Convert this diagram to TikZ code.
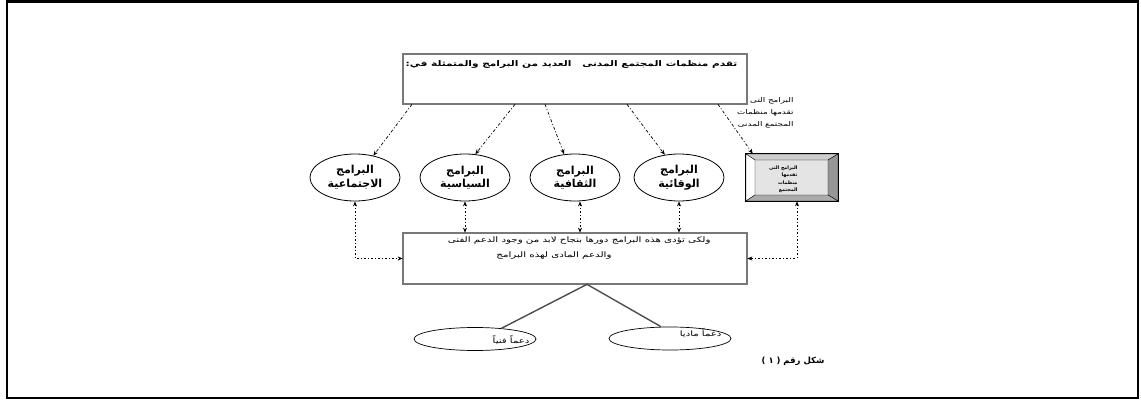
\documentclass[tikz,border=0pt]{standalone}
\usepackage{fontspec}
\usepackage{tikz}
\usetikzlibrary{arrows.meta,shapes.geometric}
\newfontfamily\arabicfont[Script=Arabic]{DejaVu Sans}
\newfontfamily\arabicwide[Script=Arabic, FakeStretch=1.35]{DejaVu Sans}
\newfontfamily\plainfont{DejaVu Sans}
\TeXXeTstate=1
\newcommand{\artxt}[1]{\beginR #1\endR}
\definecolor{bordegris}{RGB}{120,120,120}
\definecolor{panelgris}{RGB}{228,228,228}
\definecolor{biselclaro}{RGB}{205,205,205}
\definecolor{biseloscuro}{RGB}{150,150,150}
\tikzset{
  caja/.style={draw=black!85, line width=0.7pt, double=bordegris, double distance=1.1pt, minimum width=344pt, minimum height=50pt, inner sep=0pt},
  programa/.style={ellipse, draw, line width=0.8pt, minimum width=90pt, minimum height=47pt, inner sep=0pt, align=center, font=\arabicfont\bfseries\fontsize{11}{13.5}\selectfont},
  apoyo/.style={ellipse, draw, line width=0.7pt, minimum width=122pt, minimum height=23pt, inner sep=0pt},
  apoyotexto/.style={anchor=east, font=\arabicwide\fontsize{7.5}{9}\selectfont},
  enlace/.style={line width=0.7pt, dash pattern=on 3pt off 2pt on 1pt off 2pt, -{Stealth[length=5pt,width=4pt]}},
  enlacedoble/.style={line width=0.7pt, dash pattern=on 2pt off 2pt on 1pt off 2pt, {Stealth[length=5pt,width=4pt]}-{Stealth[length=5pt,width=4pt]}},
  rama/.style={draw=gray!60!black, line width=1.4pt}
}
\begin{document}
\begin{tikzpicture}[x=1pt, y=-1pt]
    \useasboundingbox (0,0) rectangle (1141,401);
    \draw[line width=2.5pt] (7,1.5) rectangle (1138,398);
    \node[caja] (oferta) at (575,79) {};
    \node[anchor=east, font=\arabicwide\bfseries\fontsize{7.8}{10}\selectfont] (titulo) at (741,64) {:\artxt{تقدم منظمات المجتمع المدنى\ \ \ العديد من البرامج والمتمثلة في}};
    \node[anchor=north east, align=right, font=\arabicwide\fontsize{6.5}{12}\selectfont] (nota) at (797,94) {\artxt{البرامج التى}\\\artxt{تقدمها منظمات}\\\artxt{المجتمع المدنى}};
    \node[programa] (social) at (355,177.5) {\artxt{البرامج}\\\artxt{الاجتماعية}};
    \node[programa] (politico) at (465,177.5) {\artxt{البرامج}\\\artxt{السياسية}};
    \node[programa] (cultural) at (575,177.5) {\artxt{البرامج}\\\artxt{الثقافية}};
    \node[programa] (preventivo) at (679,177.5) {\artxt{البرامج}\\\artxt{الوقائية}};
    \node[draw, line width=0.6pt, minimum width=92pt, minimum height=47pt, inner sep=0pt] (mirador) at (792,177.5) {};
    \fill[panelgris] (755,160) rectangle (828,195);
    \node[anchor=north east, align=right, font=\arabicfont\bfseries\fontsize{4.8}{7.5}\selectfont] (miradortexto) at (801,162) {\artxt{البرامج التى}\\\artxt{تقدمها}\\\artxt{منظمات}\\\artxt{المجتمع}};
    \filldraw[fill=biselclaro, line width=0.4pt] (746,154) -- (838,154) -- (828,160) -- (755,160) -- cycle;
    \filldraw[fill=white, line width=0.4pt] (746,154) -- (755,160) -- (755,195) -- (746,201) -- cycle;
    \filldraw[fill=biseloscuro, line width=0.4pt] (838,154) -- (838,201) -- (828,195) -- (828,160) -- cycle;
    \filldraw[fill=biseloscuro!80, line width=0.4pt] (746,201) -- (838,201) -- (828,195) -- (755,195) -- cycle;
    \draw[line width=0.6pt] (mirador.south west) rectangle (mirador.north east);
    \node[caja, minimum height=51pt] (ejecucion) at (575,258.5) {};
    \node[anchor=east, font=\arabicwide\fontsize{7.6}{9}\selectfont] (ejecucionA) at (714,241) {\artxt{ولكى تؤدى هذه البرامج دورها بنجاح لابد من وجود الدعم الفنى}};
    \node[anchor=east, font=\arabicwide\fontsize{7.6}{9}\selectfont] (ejecucionB) at (615,256) {\artxt{والدعم المادى لهذه البرامج}};
    \draw[enlace] ([xshift=-163pt]oferta.south) -- (social.50);
    \draw[enlace] ([xshift=-60pt]oferta.south) -- (politico.66);
    \draw[enlace] ([xshift=-30pt]oferta.south) -- (cultural.115);
    \draw[enlace] ([xshift=52pt]oferta.south) -- (preventivo.122);
    \draw[enlace] ([xshift=143pt]oferta.south) -- ([xshift=7pt]mirador.north west);
    \draw[enlacedoble] (politico.south) -- (politico.south |- ejecucion.north);
    \draw[enlacedoble] ([xshift=5pt]cultural.south) -- ([xshift=5pt]cultural.south |- ejecucion.north);
    \draw[enlacedoble] (preventivo.south) -- (preventivo.south |- ejecucion.north);
    \draw[enlacedoble] (social.south) |- (ejecucion.west);
    \draw[enlacedoble] ([xshift=5pt]mirador.south) |- (ejecucion.east);
    \node[apoyo] (tecnico) at (475,339) {};
    \node[apoyo] (material) at (670,338.5) {};
    \node[apoyotexto] (tecnicotexto) at (533,340) {\artxt{دعماً فنياً}};
    \node[apoyotexto] (materialtexto) at (725,333) {\artxt{دعماً ماديا}};
    \draw[rama] (tecnico.22) -- ([xshift=12pt]ejecucion.south) -- (material.127);
    \node[anchor=east, font=\arabicfont\bfseries\fontsize{8.5}{10}\selectfont] (figura) at (828,361) {{\plainfont\bfseries ( ١ )} \artxt{شكل رقم}};
\end{tikzpicture}
\end{document}
